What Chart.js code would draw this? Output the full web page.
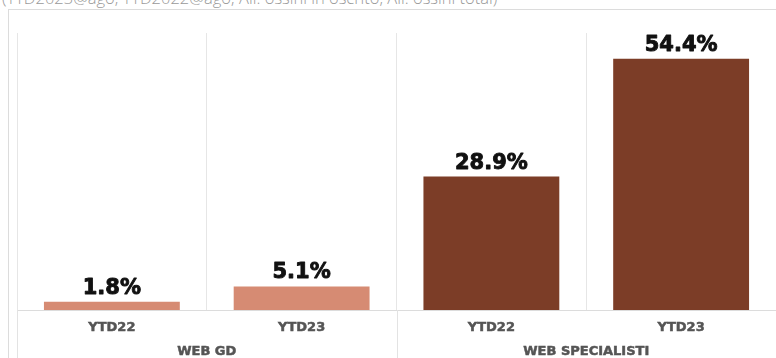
<!DOCTYPE html>
<html>
<head>
<meta charset="utf-8">
<script src="https://cdn.jsdelivr.net/npm/chart.js@4/dist/chart.umd.min.js"></script>
<style>
  html, body { margin: 0; padding: 0; background: #fff; }
  body { width: 776px; height: 358px; position: relative; overflow: hidden; }
  #note { position: absolute; left: 2px; top: -14px; font: 300 16.5px "Open Sans", sans-serif; color: #9a9a9a; white-space: nowrap; }
  #frame { position: absolute; left: 8px; top: 9px; width: 780px; height: 360px; border-top: 1px solid #dcdcdc; border-left: 1px solid #dcdcdc; background: #fff; }
  #c { position: absolute; left: 0; top: 0; }
</style>
</head>
<body>
<div id="note">(YTD2023@ago, YTD2022@ago; All. ossini in oscrito, All. ossini total)</div>
<div id="frame"></div>
<canvas id="c" width="776" height="358"></canvas>
<script>
const categories = ['YTD22', 'YTD23', 'YTD22', 'YTD23'];
const groups = ['WEB GD', 'WEB SPECIALISTI'];
const groupSizes = [2, 2];
const values = [1.8, 5.1, 28.9, 54.4];
const barColors = ['#D68B73', '#D68B73', '#7C3D27', '#7C3D27'];

const valueLabels = {
  id: 'valueLabels',
  afterDatasetsDraw(chart) {
    const ctx = chart.ctx;
    const meta = chart.getDatasetMeta(0);
    ctx.save();
    ctx.font = 'bold 21px "DejaVu Sans", sans-serif';
    ctx.fillStyle = '#111';
    ctx.strokeStyle = '#111';
    ctx.lineWidth = 0.9;
    ctx.lineJoin = 'round';
    ctx.textAlign = 'center';
    ctx.textBaseline = 'alphabetic';
    meta.data.forEach((bar, i) => {
      const t = values[i].toFixed(1) + '%';
      ctx.fillText(t, bar.x, bar.y - 8);
      ctx.strokeText(t, bar.x, bar.y - 8);
    });
    ctx.restore();
  }
};

const groupAxis = {
  id: 'groupAxis',
  afterDraw(chart) {
    const ctx = chart.ctx;
    const x = chart.scales.x;
    const n = categories.length;
    const w = x.width / n;
    const bottom = chart.chartArea.bottom;
    ctx.save();
    ctx.strokeStyle = '#e3e3e3';
    ctx.lineWidth = 1;
    let start = 0;
    groups.forEach((g, gi) => {
      const left = x.getPixelForValue(start) - w / 2;
      const lx = Math.round(left) + 0.5;
      ctx.beginPath();
      ctx.moveTo(lx, bottom);
      ctx.lineTo(lx, chart.height);
      ctx.stroke();
      start += groupSizes[gi];
    });
    ctx.font = 'bold 13px "DejaVu Sans", sans-serif';
    ctx.fillStyle = '#555';
    ctx.strokeStyle = '#555';
    ctx.lineWidth = 0.5;
    ctx.textAlign = 'center';
    ctx.textBaseline = 'middle';
    start = 0;
    groups.forEach((g, gi) => {
      const left = x.getPixelForValue(start) - w / 2;
      const right = x.getPixelForValue(start + groupSizes[gi] - 1) + w / 2;
      ctx.fillText(g, (left + right) / 2, bottom + 42);
      ctx.strokeText(g, (left + right) / 2, bottom + 42);
      start += groupSizes[gi];
    });
    ctx.restore();
  }
};

new Chart(document.getElementById('c'), {
  type: 'bar',
  data: {
    labels: categories,
    datasets: [{
      data: values,
      backgroundColor: barColors,
      borderWidth: 0,
      categoryPercentage: 0.716,
      barPercentage: 1.0
    }]
  },
  options: {
    responsive: false,
    animation: false,
    layout: { padding: { left: 17, top: 33, right: 0, bottom: 0 } },
    plugins: { legend: { display: false }, tooltip: { enabled: false } },
    scales: {
      x: {
        offset: true,
        grid: { offset: true, color: '#e6e6e6', drawTicks: false },
        border: { color: '#dcdcdc' },
        ticks: {
          padding: 10, color: '#555',
          textStrokeColor: '#555', textStrokeWidth: 0.5,
          font: { family: '"DejaVu Sans", sans-serif', size: 13, weight: 'bold' }
        },
        afterFit(scale) { scale.height = 48; }
      },
      y: {
        display: false,
        min: 0,
        max: 60
      }
    }
  },
  plugins: [valueLabels, groupAxis]
});
</script>
</body>
</html>
